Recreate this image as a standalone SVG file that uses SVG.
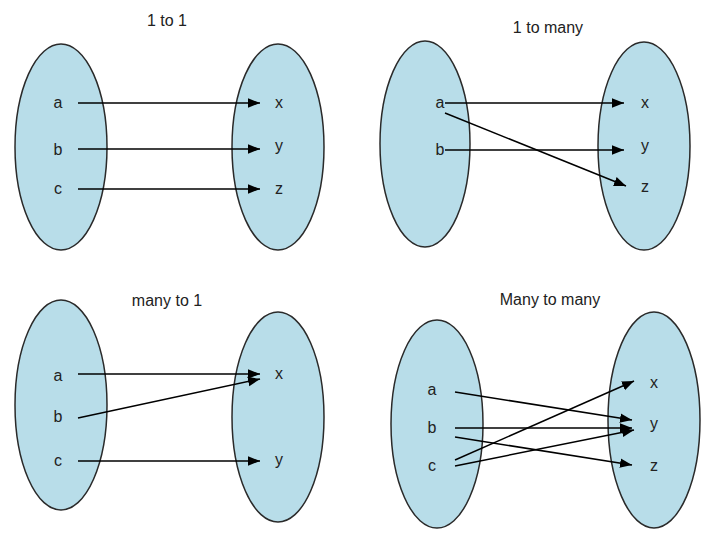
<svg xmlns="http://www.w3.org/2000/svg" width="720" height="540" viewBox="0 0 720 540">
<style>
.set{fill:#b8dde9;stroke:#2a2a2a;stroke-width:1.5}
text{font-family:"Liberation Sans",Arial,sans-serif;font-size:16px;fill:#222;text-anchor:middle}
.c line{stroke:#000;stroke-width:1.5;marker-end:url(#ah)}
</style>
<defs><marker id="ah" viewBox="0 0 10 10" refX="10" refY="5" markerWidth="12" markerHeight="12" markerUnits="userSpaceOnUse" orient="auto"><path d="M0,1 L10,5 L0,9z" fill="#000"/></marker></defs>
<rect width="720" height="540" fill="#fff"/>
<g id="q1">
<text x="167" y="26">1 to 1</text>
<ellipse class="set" cx="61" cy="147" rx="46" ry="103"/>
<ellipse class="set" cx="278" cy="147" rx="46" ry="103"/>
<text x="58" y="108">a</text><text x="58" y="155">b</text><text x="58" y="194">c</text>
<text x="279" y="108">x</text><text x="279" y="151">y</text><text x="279" y="194">z</text>
</g>
<g id="q2">
<text x="548" y="33">1 to many</text>
<ellipse class="set" cx="425" cy="144" rx="45" ry="103"/>
<ellipse class="set" cx="644" cy="146" rx="46" ry="104"/>
<text x="440" y="108">a</text><text x="440" y="155">b</text>
<text x="645" y="108">x</text><text x="645" y="151">y</text><text x="645" y="192">z</text>
</g>
<g id="q3">
<text x="167" y="306">many to 1</text>
<ellipse class="set" cx="61" cy="405" rx="46" ry="105"/>
<ellipse class="set" cx="278" cy="417" rx="46" ry="105"/>
<text x="58" y="381">a</text><text x="58" y="422">b</text><text x="58" y="466">c</text>
<text x="279" y="379">x</text><text x="279" y="465">y</text>
</g>
<g id="q4">
<text x="550" y="305">Many to many</text>
<ellipse class="set" cx="437" cy="424" rx="46" ry="104"/>
<ellipse class="set" cx="654" cy="420" rx="46" ry="108"/>
<text x="432" y="395">a</text><text x="432" y="433">b</text><text x="432" y="471">c</text>
<text x="654" y="388">x</text><text x="654" y="429">y</text><text x="654" y="471">z</text>
</g>
<g id="connectors" class="c">
<line x1="78" y1="103" x2="260" y2="103"/>
<line x1="78" y1="149" x2="260" y2="149"/>
<line x1="78" y1="189" x2="260" y2="189"/>
<line x1="445" y1="103" x2="624" y2="103"/>
<line x1="445" y1="113" x2="626" y2="186"/>
<line x1="445" y1="150" x2="624" y2="150"/>
<line x1="78" y1="374" x2="260" y2="374"/>
<line x1="78" y1="418" x2="260" y2="379"/>
<line x1="78" y1="461" x2="260" y2="461"/>
<line x1="455" y1="392" x2="632" y2="420"/>
<line x1="455" y1="428" x2="632" y2="428"/>
<line x1="455" y1="437" x2="632" y2="465"/>
<line x1="455" y1="460" x2="634" y2="381"/>
<line x1="455" y1="466" x2="634" y2="430"/>
</g>
</svg>
